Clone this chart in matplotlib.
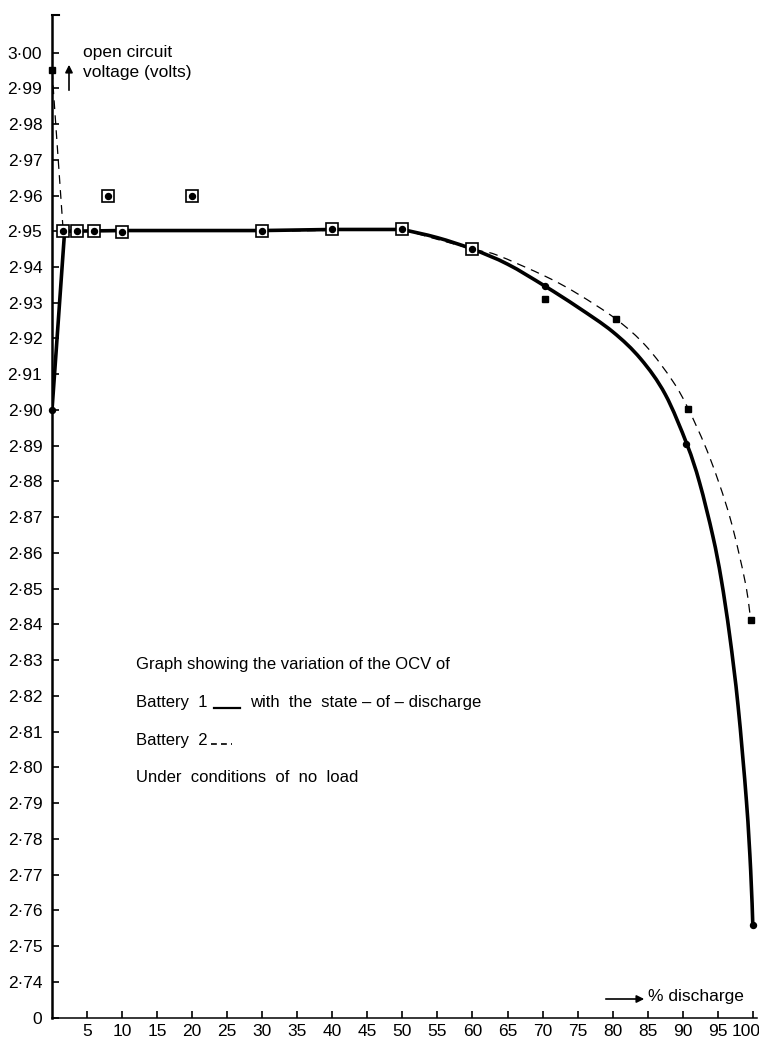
import matplotlib
matplotlib.use("Agg")
import matplotlib.pyplot as plt
import matplotlib.transforms as mtransforms
from matplotlib.lines import Line2D
from matplotlib.path import Path
from matplotlib.patches import PathPatch

# courbe OCV en fonction de l'etat de decharge, batteries 1 et 2

# points mesures batterie 1 (points pleins)
b1_x = [0, 1.6, 3.6, 6, 8, 10, 20, 30, 40, 50, 60, 70.3, 90.5, 100]
b1_v = [2.900, 2.950, 2.950, 2.950, 2.960, 2.9497, 2.960, 2.950, 2.9505, 2.9505,
        2.945, 2.9348, 2.8904, 2.756]

# points mesures batterie 2 (carres ouverts, confondus avec la batterie 1)
b2_open_x = [1.6, 3.6, 6, 8, 10, 20, 30, 40, 50, 60]
b2_open_v = [2.950, 2.950, 2.950, 2.960, 2.9497, 2.960, 2.950, 2.9505, 2.9505, 2.945]

# points mesures batterie 2 (petits carres pleins)
b2_fill_x = [0, 70.3, 80.5, 90.8, 99.7]
b2_fill_v = [2.995, 2.931, 2.9254, 2.9003, 2.8413]

# courbe batterie 1 : montee puis palier (droites), puis partie courbe
c1_droit_x = [0, 1.8, 10, 30, 40, 50]
c1_droit_v = [2.900, 2.950, 2.9502, 2.9502, 2.9505, 2.9505]
c1_x = [50, 55, 60, 65, 70.3, 75, 80, 84, 87.5, 90.6, 92.4, 94.3, 95.5, 96.7, 97.9,
        99.1, 99.7, 100]
c1_v = [2.9505, 2.9482, 2.9450, 2.9408, 2.9347, 2.9288, 2.9219, 2.9143, 2.9044,
        2.8904, 2.8797, 2.8647, 2.8526, 2.8369, 2.8172, 2.7904, 2.7711, 2.756]

# courbe batterie 2 (tirets)
c2_droit_x = [0, 1.6, 10, 30, 50]
c2_droit_v = [2.995, 2.950, 2.9500, 2.9500, 2.9505]
c2_x = [50, 60, 63.4, 70.5, 75, 80.5, 84.8, 88.6, 90.8, 93.8, 96.7, 98.9, 99.7]
c2_v = [2.9505, 2.9450, 2.9434, 2.9373, 2.9325, 2.9254, 2.9178, 2.9080, 2.9003,
        2.8870, 2.8702, 2.8520, 2.8413]

y_ticks = [round(2.74 + 0.01 * i, 2) for i in range(27)]
x_ticks = list(range(5, 101, 5))
x_max = 100.6
y_bas = 2.7299
y_haut = 3.0105

plt.rcParams["font.family"] = ["Liberation Sans", "DejaVu Sans"]

fig = plt.figure(figsize=(7.59, 10.40), dpi=100)
ax = fig.add_axes([52 / 759, 22 / 1040, 705 / 759, 1003 / 1040])
rapport = 1003 / 705


def trace_lisse(ax, xs, vs, **kw):
    # spline de Catmull-Rom passant par les points, tracee en courbes de Bezier
    # (calcul dans un repere proportionnel aux pixels pour un lissage regulier)
    pts = [(x / x_max, (v - y_bas) / (y_haut - y_bas) * rapport) for x, v in zip(xs, vs)]
    verts = [pts[0]]
    codes = [Path.MOVETO]
    n = len(pts)
    for i in range(n - 1):
        p0 = pts[i - 1] if i > 0 else pts[i]
        p1 = pts[i]
        p2 = pts[i + 1]
        p3 = pts[i + 2] if i + 2 < n else pts[i + 1]
        c1 = (p1[0] + (p2[0] - p0[0]) / 6, p1[1] + (p2[1] - p0[1]) / 6)
        c2 = (p2[0] - (p3[0] - p1[0]) / 6, p2[1] - (p3[1] - p1[1]) / 6)
        verts += [c1, c2, p2]
        codes += [Path.CURVE4] * 3
    verts = [(a * x_max, b / rapport * (y_haut - y_bas) + y_bas) for a, b in verts]
    ax.add_patch(PathPatch(Path(verts, codes), fill=False, **kw))


style_tirets = dict(color="black", lw=0.9, linestyle=(0, (7, 5)), zorder=2)
ax.plot(c2_droit_x, c2_droit_v, **style_tirets)
trace_lisse(ax, c2_x, c2_v, edgecolor="black", lw=0.9, linestyle=(0, (7, 5)), zorder=2)

ax.plot(c1_droit_x, c1_droit_v, color="black", lw=2.6, solid_joinstyle="miter", zorder=3)
trace_lisse(ax, c1_x, c1_v, edgecolor="black", lw=2.6, capstyle="round", zorder=3)

ax.plot(b2_open_x, b2_open_v, linestyle="none", marker="s", markersize=9,
        markerfacecolor="white", markeredgecolor="black", markeredgewidth=1.2, zorder=4)
ax.plot(b1_x, b1_v, linestyle="none", marker="o", markersize=4.3,
        color="black", zorder=5, clip_on=False)
ax.plot(b2_fill_x, b2_fill_v, linestyle="none", marker="s", markersize=5,
        color="black", zorder=5, clip_on=False)

ax.set_xlim(0, x_max)
ax.set_ylim(y_bas, y_haut)

ax.set_yticks(y_ticks + [y_bas])
ax.set_yticklabels([f"{v:.2f}".replace(".", "·") for v in y_ticks] + ["0"])
ax.set_xticks(x_ticks)
ax.set_xticklabels([str(x) for x in x_ticks])
ax.tick_params(axis="y", direction="in", length=5, width=1.2, pad=7, labelsize=12.5)
ax.tick_params(axis="x", direction="in", length=5, width=1.2, pad=4, labelsize=12.5)
# le dernier libelle touche le bord droit
dernier = ax.get_xticklabels()[-1]
dernier.set_transform(dernier.get_transform()
                      + mtransforms.ScaledTranslation(-7 / 100, 0, fig.dpi_scale_trans))

for cote in ["top", "right"]:
    ax.spines[cote].set_visible(False)
ax.spines["left"].set_linewidth(1.8)
ax.spines["bottom"].set_linewidth(1.1)
# petit crochet en haut de l'axe des tensions
ax.plot([0, 0.010], [1, 1], transform=ax.transAxes, color="black", lw=1.5, clip_on=False)

# libelles des axes
fig.text(83 / 759, 1 - 52 / 1040, "open circuit", fontsize=12.5, va="center")
fig.text(83 / 759, 1 - 72 / 1040, "voltage (volts)", fontsize=12.5, va="center")
ax.annotate("", xy=(69, 1040 - 62), xytext=(69, 1040 - 93),
            xycoords="figure pixels", textcoords="figure pixels",
            arrowprops=dict(arrowstyle="-|>", color="black", lw=1.2, mutation_scale=11))
ax.annotate("", xy=(647, 1040 - 999), xytext=(603, 1040 - 999),
            xycoords="figure pixels", textcoords="figure pixels",
            arrowprops=dict(arrowstyle="-|>", color="black", lw=1.2, mutation_scale=11))
fig.text(648 / 759, 1 - 996 / 1040, "% discharge", fontsize=12.5, va="center")

# bloc de legende ecrit dans le graphe
taille = 12
fig.text(136 / 759, 1 - 664 / 1040, "Graph showing the variation of the OCV of",
         fontsize=taille, va="center")
fig.text(136 / 759, 1 - 703 / 1040, "Battery  1", fontsize=taille, va="center")
fig.add_artist(Line2D([214 / 759, 240 / 759], [1 - 708 / 1040, 1 - 708 / 1040],
                      color="black", lw=1.6))
fig.text(250 / 759, 1 - 703 / 1040, "with  the  state – of – discharge",
         fontsize=taille, va="center")
fig.text(136 / 759, 1 - 741 / 1040, "Battery  2", fontsize=taille, va="center")
fig.add_artist(Line2D([211 / 759, 232 / 759], [1 - 744 / 1040, 1 - 744 / 1040],
                      color="black", lw=1.2, linestyle=(0, (3.5, 2.5))))
fig.text(136 / 759, 1 - 778 / 1040, "Under  conditions  of  no  load",
         fontsize=taille, va="center")

fig.savefig("out.png", dpi=100)
